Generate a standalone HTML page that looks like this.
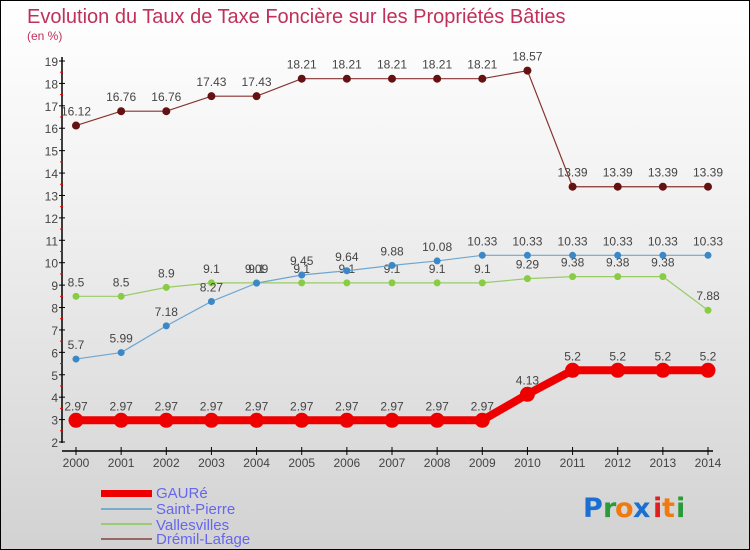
<!DOCTYPE html>
<html><head><meta charset="utf-8"><style>
body{margin:0}
#wrap{width:748px;height:548px;border:1px solid #000;background:linear-gradient(#ffffff,#f4f4f4 30%,#d2d2d2);position:relative;overflow:hidden;font-family:"Liberation Sans",sans-serif}
</style></head><body>
<div id="wrap">
<svg id="chart" width="748" height="548" xmlns="http://www.w3.org/2000/svg">
<text x="26" y="22" font-size="20" fill="#c0305a" font-family="Liberation Sans, sans-serif">Evolution du Taux de Taxe Foncière sur les Propriétés Bâties</text>
<text x="26" y="39" font-size="12" fill="#c0305a">(en %)</text>
<g id="axes"></g><g id="series"></g>
<g>
<rect x="100" y="489" width="51" height="7" fill="#e00"/>
<text x="155" y="497" font-size="15" fill="#6666ee">GAURé</text>
<rect x="100" y="507" width="51" height="2" fill="#7aaccc"/>
<text x="155" y="513" font-size="15" fill="#6666ee">Saint-Pierre</text>
<rect x="100" y="522" width="51" height="2" fill="#99cc77"/>
<text x="155" y="529" font-size="15" fill="#6666ee">Vallesvilles</text>
<rect x="100" y="537" width="51" height="2" fill="#996666"/>
<text x="155" y="543" font-size="15" fill="#6666ee">Drémil-Lafage</text>
</g>
<g font-size="27" font-family="DejaVu Sans, sans-serif" font-weight="bold">
<text x="582" y="516" fill="#1a6fd0">P</text><text x="602" y="516" fill="#2a9a3a">r</text><text x="614" y="516" fill="#f07a10">o</text><text x="632" y="516" fill="#1a6fd0">x</text><text x="652" y="516" fill="#e02020">i</text><text x="661" y="516" fill="#f07a10">t</text><text x="675" y="516" fill="#2a9a3a">i</text>
</g>
</svg></div>
<script>
const years=[2000,2001,2002,2003,2004,2005,2006,2007,2008,2009,2010,2011,2012,2013,2014];
const gaure=[2.97,2.97,2.97,2.97,2.97,2.97,2.97,2.97,2.97,2.97,4.13,5.2,5.2,5.2,5.2];
const saintPierre=[5.7,5.99,7.18,8.27,9.09,9.45,9.64,9.88,10.08,10.33,10.33,10.33,10.33,10.33,10.33];
const vallesvilles=[8.5,8.5,8.9,9.1,9.1,9.1,9.1,9.1,9.1,9.1,9.29,9.38,9.38,9.38,7.88];
const dremil=[16.12,16.76,16.76,17.43,17.43,18.21,18.21,18.21,18.21,18.21,18.57,13.39,13.39,13.39,13.39];
const yTicks=[2,3,4,5,6,7,8,9,10,11,12,13,14,15,16,17,18,19];
const NS='http://www.w3.org/2000/svg';
const X=i=>75+i*(707-75)/(years.length-1);
const Y=v=>441-(v-2)*(441-60)/17;
function mk(t,a,p){const e=document.createElementNS(NS,t);for(const k in a)e.setAttribute(k,a[k]);p.appendChild(e);return e;}
const ax=document.getElementById('axes');
let l=mk('line',{x1:61,y1:56,x2:61,y2:442,stroke:'#000','stroke-width':1.5},ax);


l=mk('line',{x1:61,y1:450,x2:712,y2:450,stroke:'#000','stroke-width':1.5},ax);


yTicks.forEach(v=>{
 mk('line',{x1:58,y1:Y(v),x2:64,y2:Y(v),stroke:'#000'},ax);
 if(v<19)mk('line',{x1:59,y1:Y(v+0.5),x2:62,y2:Y(v+0.5),stroke:'#e00'},ax);
 const t=mk('text',{x:57,y:Y(v)+5,'text-anchor':'end','font-size':12,fill:'#444'},ax);
 t.textContent=v;
 
 
});
years.forEach((yr,i)=>{
 mk('line',{x1:X(i),y1:446,x2:X(i),y2:454,stroke:'#000'},ax);
 const t=mk('text',{x:X(i),y:466,'text-anchor':'middle','font-size':12,fill:'#444'},ax);
 t.textContent=yr;
 
 
});
const sg=document.getElementById('series');
function draw(vals,name,color,w,r,dot,lab){
 const g=mk('g',{},sg);
 
 
 const p=mk('polyline',{points:vals.map((v,i)=>X(i)+','+Y(v)).join(' '),fill:'none',stroke:color,'stroke-width':w},g);
 
 
 vals.forEach((v,i)=>{
  const c=mk('circle',{cx:X(i),cy:Y(v),r:r,fill:dot},g);
  
  
  if(lab){const t=mk('text',{x:X(i),y:Y(v)-10,'text-anchor':'middle','font-size':12,fill:'#444'},g);
  t.textContent=v;
  
  }
 });
}
draw(vallesvilles,'vallesvilles','#99cc66',1.2,3.5,'#88cc44',true);
draw(saintPierre,'saint-pierre','#6fa6d0',1.2,3.5,'#3a88c8',true);
draw(dremil,'dremil-lafage','#883333',1.2,4,'#661111',true);
draw(gaure,'gaure','#ee0000',8,7.5,'#ee0000',true);
</script>
</body></html>
